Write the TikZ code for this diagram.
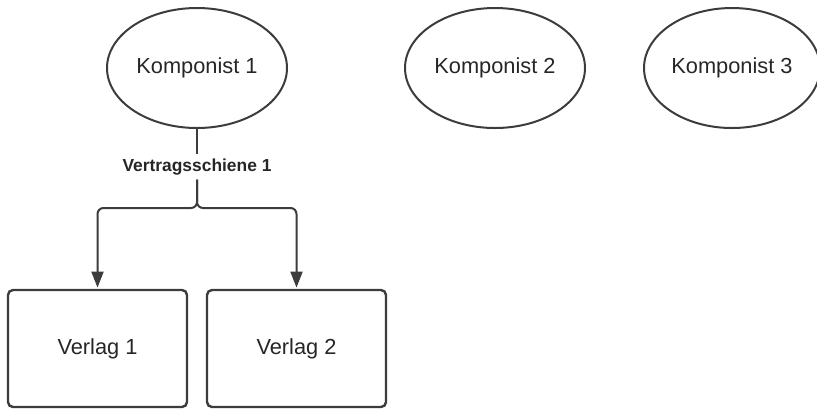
\documentclass[tikz,border=0pt]{standalone}
\usepackage{fontspec}
\setmainfont{Liberation Sans}
\usetikzlibrary{arrows.meta,positioning,shapes.geometric}
\definecolor{colorLine}{RGB}{60,60,60}
\definecolor{colorText}{RGB}{38,38,38}

\tikzset{
  komponist/.style={draw=colorLine,line width=1pt,ellipse,minimum width=90pt,minimum height=60pt,inner sep=0pt,text=colorText,font=\fontsize{10.9}{13}\selectfont},
  verlag/.style={draw=colorLine,line width=1.2pt,rounded corners=2.5pt,minimum width=89.5pt,minimum height=58.5pt,inner sep=0pt,text=colorText,font=\fontsize{10.9}{13}\selectfont},
  schiene/.style={text=colorText,font=\bfseries\fontsize{8.7}{10}\selectfont,inner sep=2pt},
  conn/.style={draw=colorLine,line width=1pt,rounded corners=3pt,-{Triangle[length=8pt,width=6pt]}}
}

\begin{document}
\begin{tikzpicture}[x=0.5pt,y=-0.5pt]
  \useasboundingbox (0,0) rectangle (817,409);
  % Komponisten
  \node[komponist] (k1) at (197,68) {Komponist 1};
  \node[komponist] (k2) at (495,68) {Komponist 2};
  \node[komponist,minimum width=88pt] (k3) at (732,68) {Komponist 3};
  % Verlage
  \node[verlag] (v1) at (97.5,348.5) {Verlag 1};
  \node[verlag,right=8.8pt of v1] (v2) {Verlag 2};
  % Vertragsschiene
  \node[schiene] (vs1) at (197,167) {Vertragsschiene 1};
  \coordinate (fork) at (197,208);
  \draw[draw=colorLine,line width=1pt] (k1.south) -- (vs1.north);
  \draw[conn] (vs1.south) |- (v1.north |- fork) -- ([yshift=0.6pt]v1.north);
  \draw[conn] (vs1.south) |- (v2.north |- fork) -- ([yshift=0.6pt]v2.north);
\end{tikzpicture}
\end{document}
